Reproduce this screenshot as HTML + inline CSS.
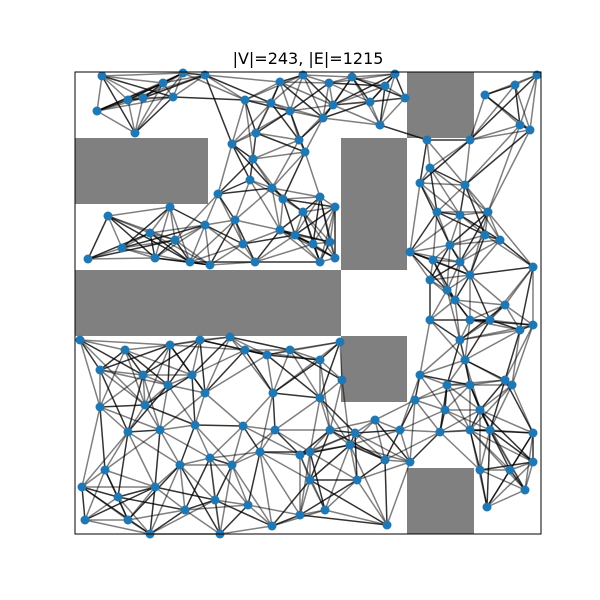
<!DOCTYPE html>
<html><head><meta charset="utf-8"><style>
body{margin:0;background:#fff;}
svg{display:block;font-family:"DejaVu Sans","Liberation Sans",sans-serif;}
</style></head><body>
<svg id="chart" width="600" height="600" viewBox="0 0 600 600">
<rect x="0" y="0" width="600" height="600" fill="#fff"/>
<text x="308" y="64" text-anchor="middle" font-size="16" fill="#000">|V|=243, |E|=1215</text>
<g id="obst"></g>
<g id="edges"></g>
<g id="nodes"></g>
<rect x="75" y="72" width="466" height="462" fill="none" stroke="#000" stroke-width="1"/>
</svg>
<script>
const nodeX=[27,22,53,60,68,88,98,108,130,170,157,178,181,196,205,215,228,224,230,248,258,254,277,295,310,320,330,305,
33,13,47,75,80,95,100,115,130,135,160,168,180,205,220,228,245,260,255,245,260,143,197,208,238,175,
352,410,440,462,445,455,395,390,355,345,362,385,413,425,410,375,358,335,385,395,458,355,372,380,355,395,415,430,445,458,385,390,395,372,345,340,370,405,430,437,415,395,365,458,458,435,405,412,450,
5,25,25,50,68,70,95,93,117,125,130,155,170,192,215,245,265,267,245,198,120,53,85,168,200,225,235,255,280,300,325,310,335,282,235,185,157,135,105,80,43,30,7,10,53,110,140,173,197,225,250,312,75,145,275];
const nodeY=[458,423,434,401,436,451,437,461,459,434,390,375,401,431,452,423,459,394,382,416,429,451,457,432,448,460,436,409,
318,275,286,301,276,327,294,272,309,269,314,290,272,304,299,322,337,327,292,272,276,340,346,335,290,354,
394,439,449,459,409,404,394,349,366,351,322,319,322,294,299,289,274,282,272,259,267,254,244,234,214,214,214,229,204,209,194,174,149,149,159,134,124,124,154,149,104,104,102,101,72,64,64,27,44,
194,164,127,184,159,129,189,149,159,194,141,197,184,179,184,174,192,154,136,141,109,102,104,108,104,79,82,104,101,114,104,74,72,54,54,82,69,76,69,47,37,64,47,14,14,24,34,29,8,19,24,9,0,0,89];
const obstacles=[[0,133,330,396],[266,332,264,396],[332,399,396,462],[0,266,198,264],[266,332,132,198],[332,399,0,66]];
const X0=75,Y0=534,SX=1,SY=1;
const sx=v=>X0+v*SX, sy=v=>Y0-v*SY;
const NS="http://www.w3.org/2000/svg";
const og=document.getElementById('obst');
obstacles.forEach(o=>{
 const r=document.createElementNS(NS,'rect');
 r.setAttribute('x',sx(o[0]));r.setAttribute('y',sy(o[3]));
 r.setAttribute('width',sx(o[1])-sx(o[0]));r.setAttribute('height',sy(o[2])-sy(o[3]));
 r.setAttribute('fill','#808080');
 
 
 og.appendChild(r);
});
function crosses(i,j){
 for(let t=0.05;t<0.96;t+=0.05){
  const x=nodeX[i]+(nodeX[j]-nodeX[i])*t,y=nodeY[i]+(nodeY[j]-nodeY[i])*t;
  for(const o of obstacles){if(x>o[0]+4&&x<o[1]-4&&y>o[2]+4&&y<o[3]-4)return true;}
 }
 return false;
}
const n=nodeX.length;
const eg=document.getElementById('edges');
const seen=new Set();
for(let i=0;i<n;i++){
 const d=[];
 for(let j=0;j<n;j++){if(j!==i){d.push([Math.hypot(nodeX[i]-nodeX[j],nodeY[i]-nodeY[j]),j]);}}
 d.sort((a,b)=>a[0]-b[0]);
 d.slice(0,8).forEach(([dist,j],k)=>{
  if(dist>95&&k>1)return;
  if(crosses(i,j))return;
  const key=Math.min(i,j)+'-'+Math.max(i,j);
  if(seen.has(key))return;seen.add(key);
  const l=document.createElementNS(NS,'line');
  l.setAttribute('x1',sx(nodeX[i]));l.setAttribute('y1',sy(nodeY[i]));
  l.setAttribute('x2',sx(nodeX[j]));l.setAttribute('y2',sy(nodeY[j]));
  l.setAttribute('stroke','#000');
  l.setAttribute('stroke-opacity',(i+j)%3===0?'0.8':'0.5');
  l.setAttribute('stroke-width','1.5');
  
  
  eg.appendChild(l);
 });
}
const ng=document.getElementById('nodes');
for(let i=0;i<n;i++){
 const c=document.createElementNS(NS,'circle');
 c.setAttribute('cx',sx(nodeX[i]));c.setAttribute('cy',sy(nodeY[i]));
 c.setAttribute('r','4.5');c.setAttribute('fill','#1f77b4');
 
 
 ng.appendChild(c);
}
</script>
</body></html>
